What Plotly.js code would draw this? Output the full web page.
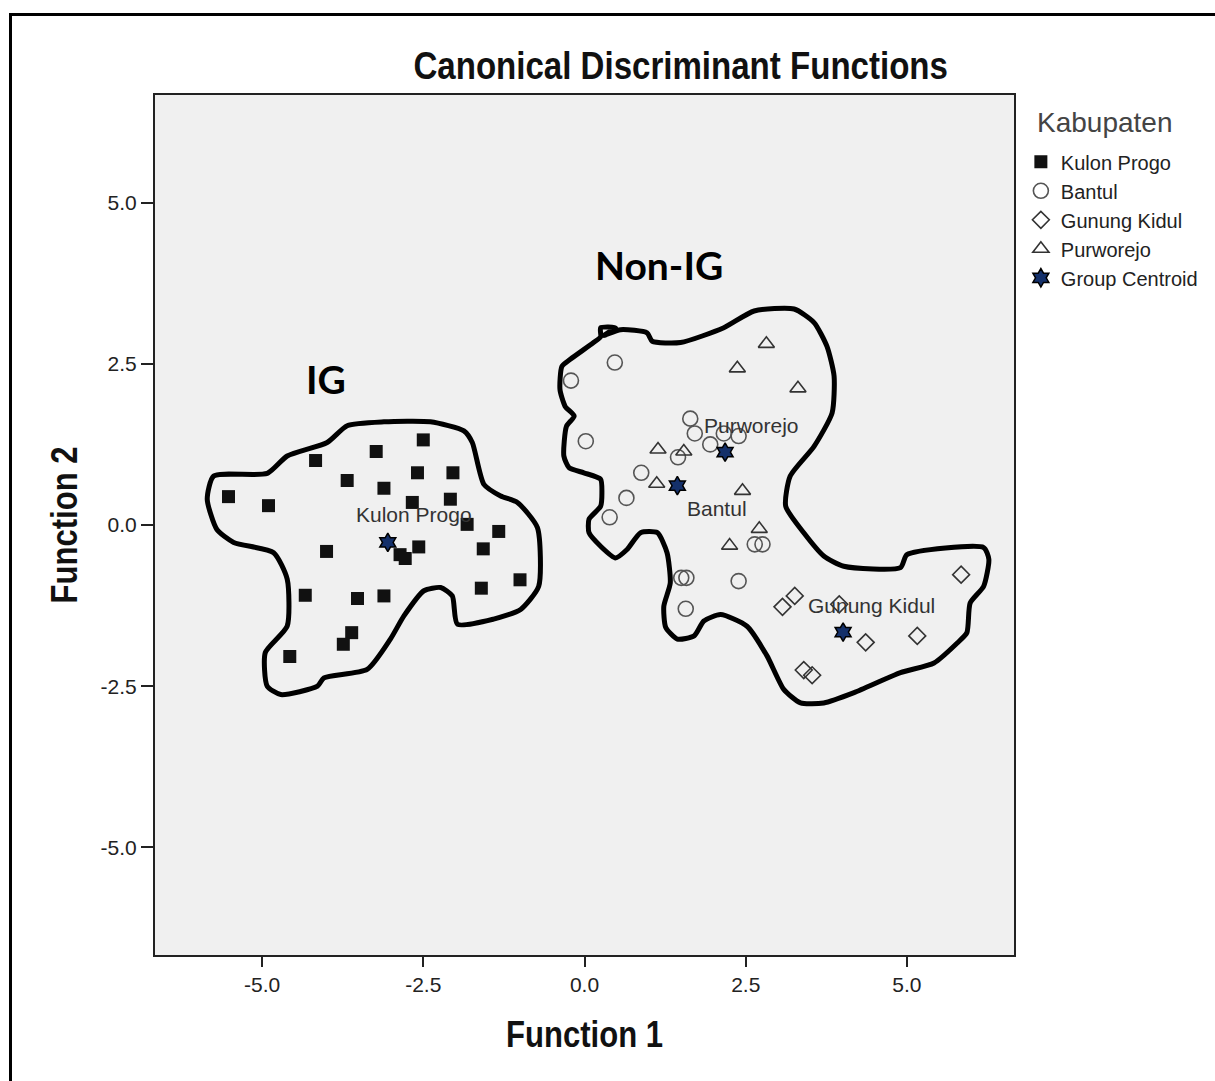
<!DOCTYPE html>
<html><head><meta charset="utf-8">
<script src="https://cdn.plot.ly/plotly-3.0.1.min.js"></script>
<style>
html,body{margin:0;padding:0;background:#fff;}
#wrap{position:relative;width:1215px;height:1081px;overflow:hidden;}
#frame{position:absolute;left:9px;top:13px;right:-10px;bottom:-10px;border-top:3px solid #000;border-left:3px solid #000;pointer-events:none;}
</style>
</head><body>
<div id="wrap"><div id="chart" style="width:1215px;height:1081px;"></div><div id="frame"></div></div>
<script>
// ---- data (Function 1, Function 2 scores) ----
const kulonProgoF1 = [-5.52,-4.90,-4.17,-3.68,-3.23,-3.11,-2.50,-2.59,-2.04,-2.67,-2.08,-1.82,-1.33,-4.00,-2.57,-2.86,-2.78,-1.57,-4.33,-3.52,-3.11,-1.60,-1.00,-3.61,-3.74,-4.57];
const kulonProgoF2 = [0.44,0.30,1.00,0.69,1.14,0.57,1.32,0.81,0.81,0.35,0.40,0.01,-0.10,-0.41,-0.34,-0.46,-0.52,-0.37,-1.09,-1.14,-1.10,-0.98,-0.85,-1.67,-1.85,-2.04];
const bantulF1 = [0.47,-0.21,0.02,1.64,1.71,1.95,2.16,2.39,1.45,0.88,0.65,0.39,2.64,2.76,1.50,1.58,2.39,1.57];
const bantulF2 = [2.52,2.24,1.30,1.65,1.42,1.25,1.42,1.38,1.05,0.81,0.42,0.12,-0.30,-0.30,-0.82,-0.82,-0.87,-1.30];
const gunungKidulF1 = [3.26,3.07,3.95,5.84,4.36,5.16,3.40,3.53];
const gunungKidulF2 = [-1.10,-1.27,-1.23,-0.77,-1.82,-1.72,-2.25,-2.33];
const purworejoF1 = [2.82,2.37,3.31,1.14,1.54,1.12,2.45,2.71,2.25];
const purworejoF2 = [2.81,2.43,2.12,1.17,1.14,0.64,0.53,-0.06,-0.32];
const centroidNames = ["Kulon Progo","Bantul","Gunung Kidul","Purworejo"];
const centroidF1 = [-3.05,1.44,4.01,2.18];
const centroidF2 = [-0.27,0.61,-1.66,1.13];
// hand-drawn group outlines (in function units)
const igOutlineF1 = [-5.75,-4.92,-4.61,-3.99,-3.68,-3.11,-2.39,-1.87,-1.74,-1.56,-1.30,-1.04,-0.73,-0.71,-0.99,-1.41,-1.97,-2.05,-2.23,-2.49,-2.80,-3.01,-3.37,-4.04,-4.14,-4.71,-4.92,-4.95,-4.61,-4.61,-4.82,-5.44,-5.70,-5.85,-5.75];
const igOutlineF2 = [0.76,0.80,1.07,1.28,1.54,1.60,1.60,1.46,1.28,0.63,0.45,0.35,-0.04,-0.95,-1.31,-1.46,-1.54,-1.10,-0.97,-1.02,-1.41,-1.77,-2.24,-2.37,-2.50,-2.63,-2.50,-1.98,-1.57,-0.84,-0.43,-0.27,-0.07,0.40,0.76];
const nonIgOutlineF1 = [0.14,0.25,0.25,0.48,0.30,0.56,0.97,1.05,1.49,2.16,2.63,3.25,3.56,3.76,3.87,3.84,3.56,3.19,3.12,3.40,3.71,4.02,4.90,5.00,6.19,6.27,6.19,5.98,5.93,5.78,5.42,4.90,4.18,3.71,3.35,3.09,2.83,2.52,2.11,1.85,1.70,1.44,1.26,1.23,1.33,1.28,1.13,0.87,0.66,0.48,0.25,0.07,0.07,0.25,0.27,0.25,-0.01,-0.24,-0.32,-0.28,-0.16,-0.30,-0.38,-0.35,-0.22,0.14];
const nonIgOutlineF2 = [2.83,2.92,3.06,3.06,2.94,3.03,2.98,2.85,2.83,3.06,3.32,3.35,3.14,2.77,2.31,1.74,1.22,0.76,0.29,-0.12,-0.48,-0.64,-0.66,-0.46,-0.35,-0.53,-0.95,-1.21,-1.67,-1.83,-2.14,-2.29,-2.60,-2.76,-2.76,-2.55,-2.03,-1.57,-1.39,-1.49,-1.72,-1.77,-1.59,-1.26,-0.90,-0.43,-0.12,-0.12,-0.38,-0.51,-0.33,-0.12,0.09,0.29,0.50,0.71,0.81,0.89,1.07,1.53,1.69,1.84,2.10,2.46,2.57,2.83];
const xTickVals = [-5,-2.5,0,2.5,5];
const xTickText = ["-5.0","-2.5","0.0","2.5","5.0"];
const yTickVals = [-5,-2.5,0,2.5,5];
const yTickText = ["-5.0","-2.5","0.0","2.5","5.0"];

const SANS = "Liberation Sans, Arial, sans-serif";

const outlineStyle = {color:"#000", width:5, shape:"spline", smoothing:0.6};
const traces = [
  {x:igOutlineF1, y:igOutlineF2, mode:"lines", line:outlineStyle, showlegend:false, hoverinfo:"skip"},
  {x:nonIgOutlineF1, y:nonIgOutlineF2, mode:"lines", line:outlineStyle, showlegend:false, hoverinfo:"skip"},
  {name:"Kulon Progo", x:kulonProgoF1, y:kulonProgoF2, mode:"markers", type:"scatter",
   marker:{symbol:"square", size:13, color:"#111", line:{width:0}}},
  {name:"Bantul", x:bantulF1, y:bantulF2, mode:"markers", type:"scatter",
   marker:{symbol:"circle-open", size:15, color:"#555", line:{width:1.6}}},
  {name:"Gunung Kidul", x:gunungKidulF1, y:gunungKidulF2, mode:"markers", type:"scatter",
   marker:{symbol:"diamond-open", size:13, color:"#333", line:{width:1.6}}},
  {name:"Purworejo", x:purworejoF1, y:purworejoF2, mode:"markers", type:"scatter",
   marker:{symbol:"triangle-up-open", size:14, color:"#333", line:{width:1.6}}},
  {name:"Group Centroid", x:centroidF1, y:centroidF2, mode:"markers", type:"scatter", text:centroidNames,
   marker:{symbol:"hexagram", size:14, color:"#14306a", line:{width:1.5, color:"#000"}}}
];

const labelShift = [[26,28],[40,-23],[28,27],[26,27]];
const annotations = centroidNames.map((n,i)=>({
  x:centroidF1[i], y:centroidF2[i], xref:"x", yref:"y", text:n, showarrow:false,
  xshift:labelShift[i][0], yshift:labelShift[i][1],
  font:{family:SANS, size:21, color:"#333"}
}));
annotations.push({x:-4.01, y:2.27, xref:"x", yref:"y", text:"<b>IG</b>", showarrow:false,
  font:{family:"Lato, Open Sans, sans-serif", size:39, color:"#000"}});
annotations.push({x:1.15, y:4.03, xref:"x", yref:"y", text:"<b>Non-IG</b>", showarrow:false,
  font:{family:"Lato, Open Sans, sans-serif", size:39, color:"#000"}});
annotations.push({x:1.1048, y:0.9686, xref:"paper", yref:"paper", xanchor:"center", yanchor:"middle",
  text:"Kabupaten", showarrow:false, font:{family:SANS, size:28, color:"#444"}});

const layout = {
  width:1215, height:1081,
  margin:{l:155, r:201, t:95, b:126},
  paper_bgcolor:"#fff", plot_bgcolor:"#f0f0f0",
  title:{text:"<b>Canonical Discriminant Functions</b>", x:0.612, xref:"paper", xanchor:"center",
    y:0.939, yref:"container", yanchor:"middle", font:{family:SANS, size:38, color:"#111"}},
  xaxis:{range:[-6.66,6.66], tickvals:xTickVals, ticktext:xTickText, ticks:"outside", ticklen:10, tickwidth:2,
    tickcolor:"#222", showgrid:false, zeroline:false, showline:true, mirror:true, linecolor:"#222", linewidth:2,
    tickfont:{family:SANS, size:21, color:"#222"},
    title:{text:"<b>Function 1</b>", standoff:26, font:{family:SANS, size:37, color:"#111"}}},
  yaxis:{range:[-6.67,6.67], tickvals:yTickVals, ticktext:yTickText, ticks:"outside", ticklen:12, tickwidth:2,
    tickcolor:"#222", showgrid:false, zeroline:false, showline:true, mirror:true, linecolor:"#222", linewidth:2,
    tickfont:{family:SANS, size:21, color:"#222"},
    title:{text:"<b>Function 2</b>", standoff:12, font:{family:SANS, size:37, color:"#111"}}},
  legend:{x:1.008, xanchor:"left", y:0.945, yanchor:"top", bgcolor:"rgba(0,0,0,0)",
    font:{family:SANS, size:20, color:"#222"}},
  annotations:annotations,
  showlegend:true
};

// condense bold titles horizontally (reference uses a narrow face)
function condense(sel, k, rotated){
  document.querySelectorAll(sel).forEach(t=>{
    const x = parseFloat(t.getAttribute("x")) || 0;
    const y = parseFloat(t.getAttribute("y")) || 0;
    const base = t.getAttribute("transform") || "";
    const extra = rotated
      ? ` translate(${x},${y}) scale(${k},1) translate(${-x},${-y})`
      : ` translate(${x},0) scale(${k},1) translate(${-x},0)`;
    t.setAttribute("transform", base + extra);
  });
}
Plotly.newPlot("chart", traces, layout, {displayModeBar:false, staticPlot:true}).then(()=>{
  condense(".gtitle", 0.87, false);
  condense(".xtitle", 0.84, false);
  condense(".ytitle", 0.84, true);
});
</script>
</body></html>
